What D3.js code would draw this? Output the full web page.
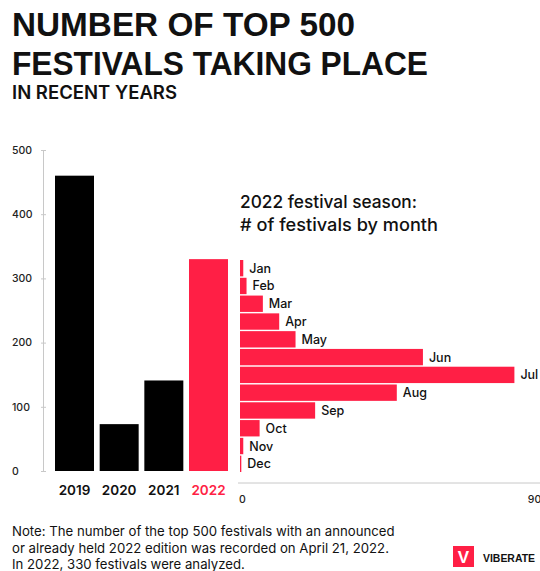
<!DOCTYPE html>
<html>
<head>
<meta charset="utf-8">
<script src="https://cdn.jsdelivr.net/npm/d3@7"></script>
<style>
  html, body { margin: 0; padding: 0; background: #fff; }
  svg { display: block; }
</style>
</head>
<body>
<script>
// Festivals in the top 500 that took place each year
const years = ["2019", "2020", "2021", "2022"];
const festivalCounts = [460, 73, 141, 330];
const yTicks = [0, 100, 200, 300, 400, 500];

// 2022 season broken down by month
const months = ["Jan", "Feb", "Mar", "Apr", "May", "Jun", "Jul", "Aug", "Sep", "Oct", "Nov", "Dec"];
const monthCounts = [1, 2, 7, 12, 17, 56, 84, 48, 23, 6, 1, 0.4];
const monthTicks = [0, 90];

const titleLines = ["NUMBER OF TOP 500", "FESTIVALS TAKING PLACE"];
const subtitle = "IN RECENT YEARS";
const monthHeading = ["2022 festival season:", "# of festivals by month"];
const noteLines = [
  "Note: The number of the top 500 festivals with an announced",
  "or already held 2022 edition was recorded on April 21, 2022.",
  "In 2022, 330 festivals were analyzed."
];

const W = 540, H = 571;
const RED = "#ff1f45";
const INK = "#111";
const GRID = "#c8c8c8";
const SANS = "'Liberation Sans', Arial, sans-serif";
const BODY = "Inter, 'Liberation Sans', sans-serif";

const svg = d3.select("body").append("svg")
  .attr("width", W).attr("height", H)
  .style("font-family", SANS);

// ---- header ----
const head = svg.append("g");
head.selectAll("text.title").data(titleLines).join("text")
  .attr("class", "title")
  .attr("x", 12)
  .attr("y", (d, i) => 36 + i * 39)
  .attr("font-size", 33).attr("font-weight", 700).attr("fill", INK)
  .attr("textLength", (d, i) => [343, 416][i])
  .attr("lengthAdjust", "spacingAndGlyphs")
  .text(d => d);
head.append("text")
  .attr("x", 12).attr("y", 99)
  .attr("font-family", BODY)
  .attr("font-size", 18.5).attr("font-weight", 600).attr("fill", INK)
  .attr("textLength", 165).attr("lengthAdjust", "spacingAndGlyphs")
  .text(subtitle);

// ---- yearly bars ----
const x = d3.scaleBand().domain(years).range([55, 228]).paddingInner(0.127).paddingOuter(0);
const y = d3.scaleLinear().domain([0, 500]).range([471, 150]);

const yAxis = svg.append("g")
  .attr("transform", "translate(43,0)")
  .call(d3.axisLeft(y).tickValues(yTicks).tickSize(2).tickSizeOuter(0));
yAxis.select(".domain").attr("stroke", GRID);
yAxis.selectAll(".tick line").attr("stroke", GRID).attr("x1", -2).attr("x2", 3);
yAxis.selectAll(".tick text")
  .attr("x", -31).attr("text-anchor", "start")
  .attr("font-family", BODY).attr("font-size", 10.5).attr("font-weight", 500).attr("fill", "#222");

svg.append("g").selectAll("rect").data(years).join("rect")
  .attr("x", d => x(d))
  .attr("width", x.bandwidth())
  .attr("y", (d, i) => y(festivalCounts[i]))
  .attr("height", (d, i) => y(0) - y(festivalCounts[i]))
  .attr("fill", (d, i) => i === years.length - 1 ? RED : "#000");

svg.append("g").selectAll("text").data(years).join("text")
  .attr("x", d => x(d) + x.bandwidth() / 2)
  .attr("y", 495)
  .attr("text-anchor", "middle")
  .attr("font-family", BODY)
  .attr("font-size", 13.5).attr("font-weight", 600)
  .attr("fill", (d, i) => i === years.length - 1 ? RED : INK)
  .text(d => d);

// ---- monthly breakdown ----
svg.append("g").selectAll("text").data(monthHeading).join("text")
  .attr("x", 240)
  .attr("y", (d, i) => 208 + i * 23)
  .attr("font-family", BODY)
  .attr("font-size", 17.5).attr("font-weight", 500).attr("fill", INK)
  .attr("textLength", (d, i) => [177, 198][i]).attr("lengthAdjust", "spacingAndGlyphs")
  .text(d => d);

const mx = d3.scaleLinear().domain([0, 90]).range([240, 534]);
const my = d3.scaleBand().domain(months).range([260, 472]).paddingInner(0.08).paddingOuter(0);

svg.append("g").selectAll("rect").data(months).join("rect")
  .attr("x", mx(0))
  .attr("y", d => my(d))
  .attr("width", (d, i) => mx(monthCounts[i]) - mx(0))
  .attr("height", my.bandwidth())
  .attr("fill", RED);

svg.append("g").selectAll("text").data(months).join("text")
  .attr("x", (d, i) => mx(monthCounts[i]) + 6)
  .attr("y", d => my(d) + my.bandwidth() / 2)
  .attr("dy", "0.36em")
  .attr("font-family", BODY)
  .attr("font-size", 12.5).attr("font-weight", 500).attr("fill", INK)
  .text(d => d);

const xAxis = svg.append("g")
  .attr("transform", "translate(0,483)")
  .call(d3.axisBottom(mx).tickValues(monthTicks).tickSize(0).tickPadding(13).tickSizeOuter(0));
xAxis.select(".domain").attr("stroke", GRID).attr("d", `M${mx(0) - 2},0H${W}`);
xAxis.selectAll(".tick text")
  .attr("dx", (d, i) => i === 0 ? 2 : 0)
  .attr("font-family", BODY).attr("font-size", 10.5).attr("font-weight", 500).attr("fill", "#222");

// ---- footnote ----
svg.append("g").selectAll("text").data(noteLines).join("text")
  .attr("x", 12)
  .attr("y", (d, i) => 536 + i * 16.5)
  .attr("font-family", BODY)
  .attr("font-size", 13.2).attr("fill", INK)
  .text(d => d);

// ---- brand mark ----
const logo = svg.append("g").attr("transform", "translate(453,546)");
logo.append("rect").attr("width", 21).attr("height", 21).attr("fill", RED);
logo.append("text")
  .attr("x", 10.5).attr("y", 16.5).attr("text-anchor", "middle")
  .attr("font-size", 17).attr("font-weight", 700).attr("fill", "#fff")
  .text("V");
logo.append("text")
  .attr("x", 30).attr("y", 15.5)
  .attr("font-size", 11).attr("font-weight", 700).attr("fill", INK)
  .attr("textLength", 52).attr("lengthAdjust", "spacingAndGlyphs")
  .text("VIBERATE");
</script>
</body>
</html>
